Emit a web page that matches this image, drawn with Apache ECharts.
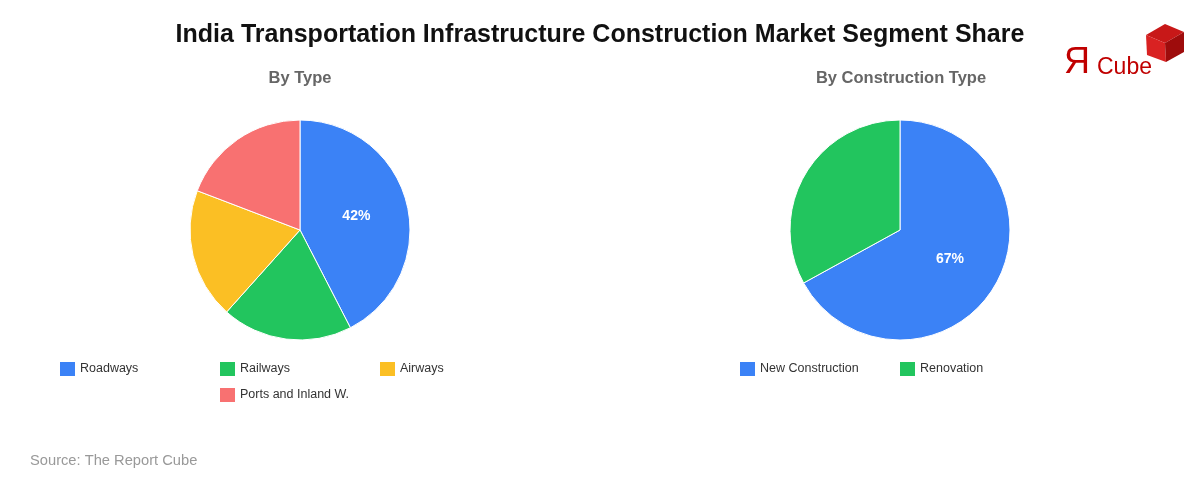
<!DOCTYPE html>
<html><head><meta charset="utf-8">
<script src="https://cdn.jsdelivr.net/npm/echarts@6/dist/echarts.min.js"></script>
<style>html,body{margin:0;padding:0;background:#fff}#c{width:1200px;height:480px}</style>
</head><body><div id="c"></div>
<script>
const typeCategories = ['Roadways', 'Railways', 'Airways', 'Ports and Inland W.'];
const typeValues = [42, 19, 19, 19];
const constructionCategories = ['New Construction', 'Renovation'];
const constructionValues = [67, 33];
const colors = ['#3b82f6', '#22c55e', '#fbbf24', '#f87171'];

const chart = echarts.init(document.getElementById('c'), null, {renderer: 'canvas'});
const font = 'Liberation Sans, Arial, sans-serif';

function pieSeries(cats, vals, cx) {
  return {
    type: 'pie', radius: [0, 110], center: [cx, 230], startAngle: 90, clockwise: true,
    animation: false,
    itemStyle: {borderColor: '#fff', borderWidth: 1},
    label: {
      show: true, position: 'inner', color: '#fff', fontWeight: 'bold', fontSize: 14, fontFamily: font,
      formatter: p => p.percent >= 35 ? Math.round(p.percent) + '%' : ''
    },
    labelLine: {show: false},
    emphasis: {disabled: true},
    data: cats.map((c, i) => ({name: c, value: vals[i], itemStyle: {color: colors[i]}}))
  };
}
// one legend per item so each occupies a fixed 160px slot, rows centred under each pie
function legendItem(name, left, top) {
  return {
    data: [name], left: left, top: top, orient: 'horizontal', padding: 0,
    itemWidth: 15, itemHeight: 14, itemGap: 5, icon: 'rect', selectedMode: false,
    itemStyle: {borderWidth: 0},
    textStyle: {fontSize: 12.5, color: '#333', fontFamily: font}
  };
}

chart.setOption({
  animation: false,
  title: [
    {text: 'India Transportation Infrastructure Construction Market Segment Share', left: 'center', top: 23, padding: 0,
     textStyle: {fontSize: 25, fontWeight: 'bold', color: '#111', fontFamily: font}},
    {text: 'By Type', left: 300, textAlign: 'center', top: 70, padding: 0,
     textStyle: {fontSize: 16.5, fontWeight: 'bold', color: '#666', fontFamily: font}},
    {text: 'By Construction Type', left: 901, textAlign: 'center', top: 70, padding: 0,
     textStyle: {fontSize: 16.5, fontWeight: 'bold', color: '#666', fontFamily: font}},
    {text: 'Source: The Report Cube', left: 30, top: 453, padding: 0,
     textStyle: {fontSize: 14.7, fontWeight: 'normal', color: '#999', fontFamily: font}}
  ],
  legend: [
    legendItem(typeCategories[0], 60, 362),
    legendItem(typeCategories[1], 220, 362),
    legendItem(typeCategories[2], 380, 362),
    legendItem(typeCategories[3], 220, 388),
    legendItem(constructionCategories[0], 740, 362),
    legendItem(constructionCategories[1], 900, 362)
  ],
  graphic: [
    {type: 'text', left: 1064, top: 45, style: {text: 'Я', fontSize: 36, fill: '#c00000', fontFamily: font}},
    {type: 'text', left: 1097, top: 56, style: {text: 'Cube', fontSize: 23, fill: '#c00000', fontFamily: font}},
    {type: 'polygon', shape: {points: [[1146, 35], [1165, 24], [1184, 32], [1165, 43]]}, style: {fill: '#c81818'}},
    {type: 'polygon', shape: {points: [[1146, 35], [1165, 43], [1166, 62], [1147, 55]]}, style: {fill: '#d92222'}},
    {type: 'polygon', shape: {points: [[1165, 43], [1184, 32], [1184, 52], [1166, 62]]}, style: {fill: '#9e0c0c'}}
  ],
  series: [
    pieSeries(typeCategories, typeValues, 300),
    pieSeries(constructionCategories, constructionValues, 900)
  ]
});
</script></body></html>
